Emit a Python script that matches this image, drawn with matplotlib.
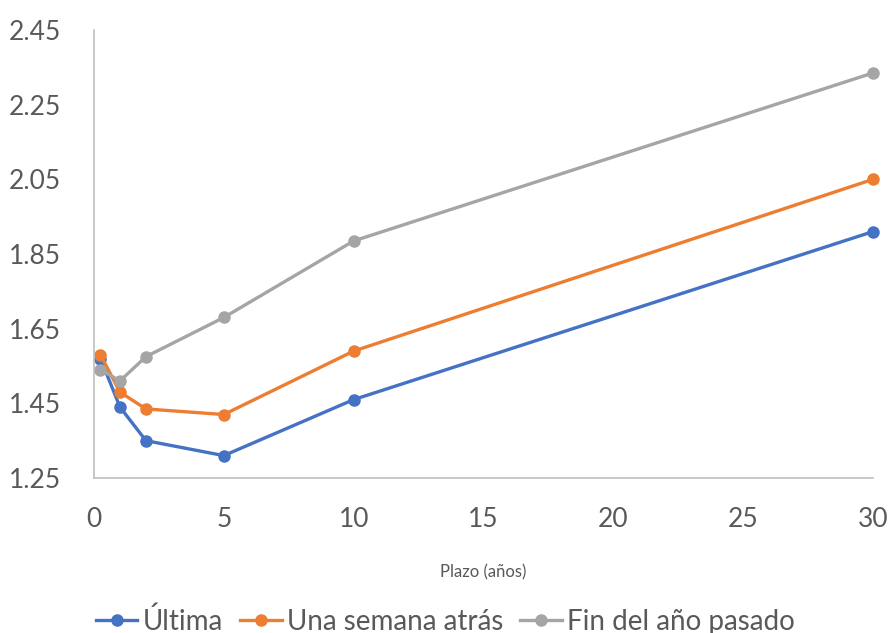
import matplotlib
matplotlib.use("Agg")
import matplotlib.pyplot as plt

plazo = [0.25, 1, 2, 5, 10, 30]
ultima = [1.57, 1.44, 1.35, 1.31, 1.46, 1.91]
semana = [1.58, 1.48, 1.435, 1.42, 1.59, 2.05]
fin_ano = [1.54, 1.51, 1.575, 1.68, 1.885, 2.335]
yticks = [1.25, 1.45, 1.65, 1.85, 2.05, 2.25, 2.45]
xticks = [0, 5, 10, 15, 20, 25, 30]

plt.rcParams['font.family'] = ['Lato', 'DejaVu Sans']

fig = plt.figure(figsize=(8.91, 6.33), dpi=100)
ax = fig.add_axes([94/891, 1-478/633, (873-94)/891, (478-30)/633])

series = [("Última", ultima, "#4472C4"),
          ("Una semana atrás", semana, "#ED7D31"),
          ("Fin del año pasado", fin_ano, "#A5A5A5")]
for name, vals, col in series:
    ax.plot(plazo, vals, color=col, lw=2.4, marker='o', ms=8, label=name, clip_on=False)

ax.set_xlim(0, 30)
ax.set_ylim(1.25, 2.45)
ax.set_xticks(xticks)
ax.set_yticks(yticks)
ax.set_yticklabels([f"{v:.2f}" for v in yticks])
ax.tick_params(length=0, labelsize=19, labelcolor='#595959')
ax.tick_params(axis='y', pad=24)
ax.tick_params(axis='x', pad=21)
for s in ['top', 'right']:
    ax.spines[s].set_visible(False)
for s in ['left', 'bottom']:
    ax.spines[s].set_color('#BFBFBF')
    ax.spines[s].set_linewidth(1.2)
ax.set_xlabel("Plazo (años)", fontsize=12, color='#595959', labelpad=23)

leg = fig.legend(loc='lower center', bbox_to_anchor=(0.5, -0.042), ncol=3, frameon=False,
                 fontsize=20, handlelength=1.5, handletextpad=0.2, columnspacing=0.6,
                 labelcolor='#595959')
fig.savefig("out.png", dpi=100)
